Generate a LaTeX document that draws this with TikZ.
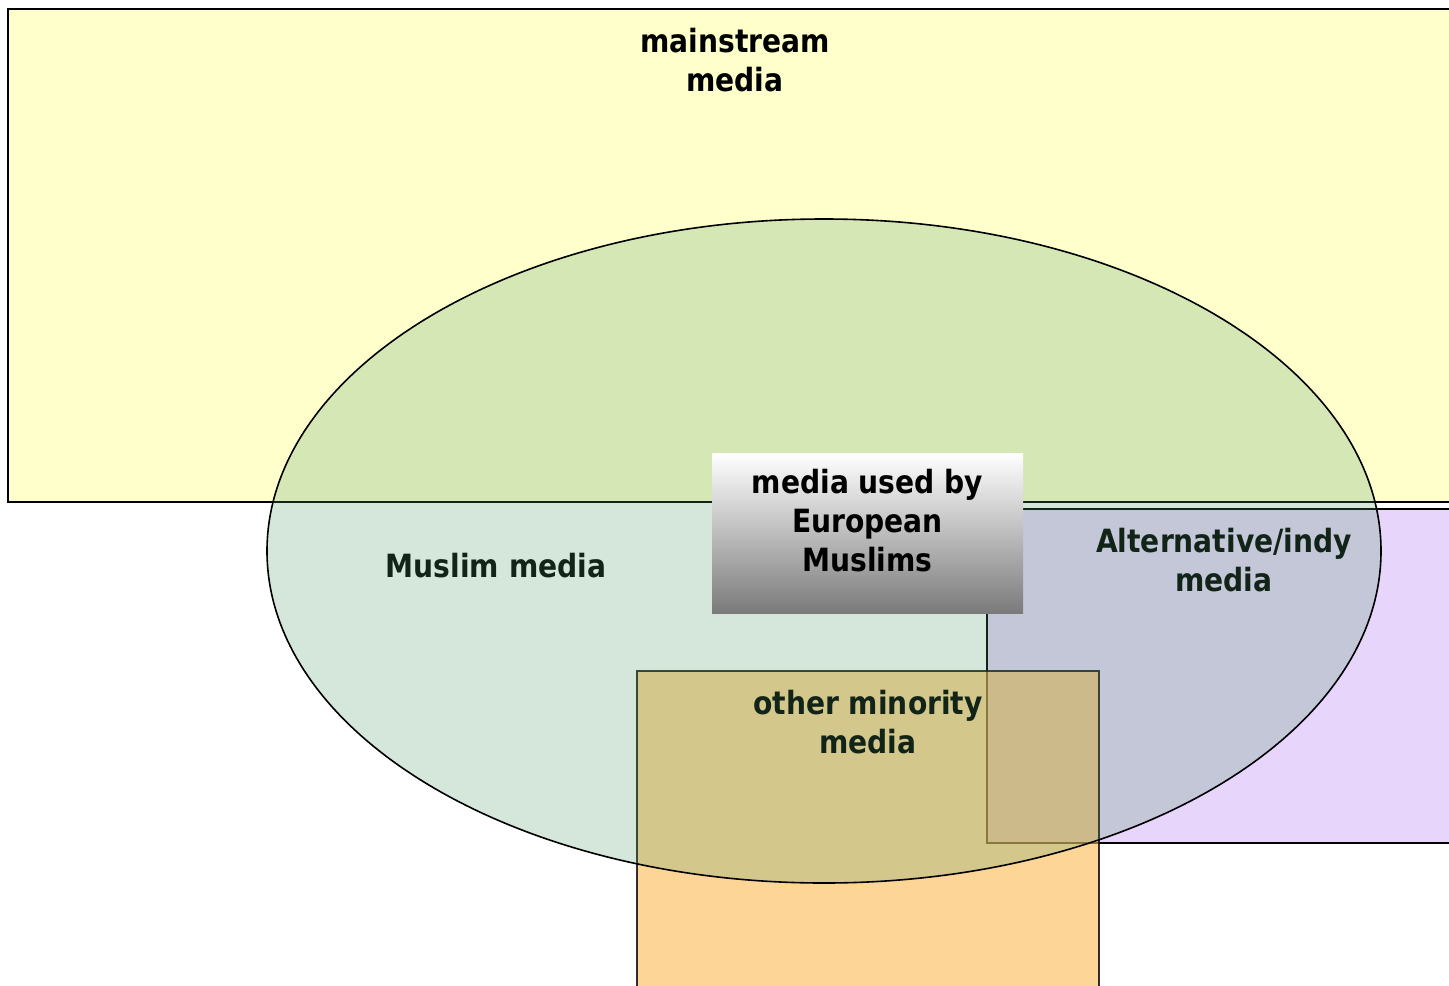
\documentclass[tikz,border=0pt]{standalone}
\usepackage{fontspec}
\setsansfont{DejaVu Sans}[FakeStretch=0.88]

\definecolor{mainyellow}{RGB}{255,255,204}
\definecolor{indypurple}{RGB}{232,213,251}
\definecolor{minorityorange}{RGB}{252,185,82}
\definecolor{muslimgreen}{RGB}{78,157,106}

\begin{document}
\begin{tikzpicture}[
        x=0.5pt, y=-0.5pt,
        area/.style={draw=black, line width=1pt},
        tag/.style={font=\sffamily\bfseries\fontsize{16}{19.5}\selectfont, align=center, text=black, inner sep=0pt},
        usedbox/.style={rectangle, inner sep=0pt, minimum width=155.5pt, minimum height=80pt, top color=white, middle color=black!20, bottom color=black!52}
    ]

    \clip (0,0) rectangle (1449,985);
    \fill[white] (0,0) rectangle (1449,985);

    % media areas
    \filldraw[area, fill=mainyellow] (8,9) rectangle (1470,502);
    \filldraw[area, line width=0.8pt, fill=indypurple] (987,509) rectangle (1470,843);
    \filldraw[area, line width=0.8pt, fill=minorityorange, fill opacity=0.6, draw opacity=0.8] (637,671) rectangle (1099,1000);

    % labels (under the ellipse)
    \node[tag] (mainstream) at (735,60) {mainstream\\media};
    \node[tag] (muslim) at (496,566) {Muslim media};
    \node[tag] (indy) at (1224,560) {Alternative/indy\\media};
    \node[tag] (minority) at (868,722) {other minority\\media};

    \filldraw[draw=black, line width=0.8pt, fill=muslimgreen, fill opacity=0.235] (824,551) ellipse [x radius=557, y radius=332];

    % centre box
    \node[usedbox] (usedby) at (867.5,533) {};
    \node[tag] (usedbytext) at ([yshift=6pt]usedby.center) {media used by\\European\\Muslims};

\end{tikzpicture}
\end{document}
